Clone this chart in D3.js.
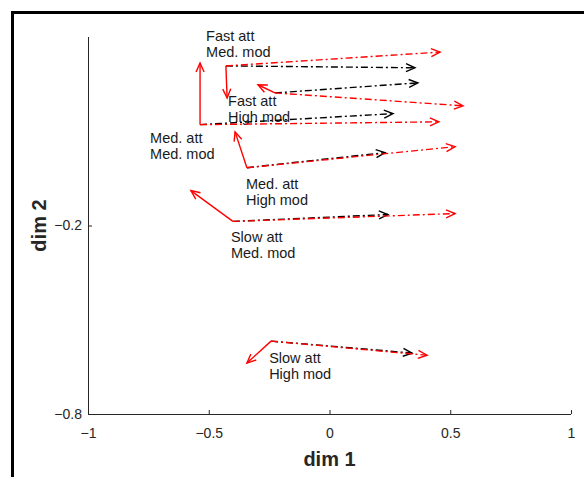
<!DOCTYPE html>
<html lang="en">
<head>
<meta charset="UTF-8">
<title>dim 1 / dim 2</title>
<style>
  *{margin:0;padding:0;}
  body{background:#fff;}
  svg{font-family:"Liberation Sans", Arial, Helvetica, sans-serif;}
</style>
</head>
<body>
<div id="container"></div>
<script src="https://cdn.jsdelivr.net/npm/d3@7/dist/d3.min.js"></script>
<script>
// conditions
var conditions = ['Fast att|Med. mod', 'Fast att|High mod', 'Med. att|Med. mod',
                  'Med. att|High mod', 'Slow att|Med. mod', 'Slow att|High mod']
// start point of each condition
var baseX = [-0.429, -0.226, -0.536, -0.342, -0.400, -0.242]
var baseY = [0.308, 0.222, 0.121, -0.016, -0.187, -0.568]
// solid red arrow end
var solidX = [-0.424, -0.296, -0.536, -0.391, -0.574, -0.342]
var solidY = [0.206, 0.248, 0.317, 0.098, -0.089, -0.638]
// red dash-dot arrow end
var redX = [0.458, 0.553, 0.453, 0.520, 0.520, 0.404]
var redY = [0.352, 0.181, 0.130, 0.051, -0.162, -0.613]
// black dash-dot arrow end
var blackX = [0.354, 0.366, 0.263, 0.230, 0.242, 0.342]
var blackY = [0.302, 0.254, 0.156, 0.032, -0.165, -0.606]
// text anchors (left, first line)
var labelX = [-0.511, -0.420, -0.743, -0.346, -0.408, -0.250]
var labelY = [0.403, 0.197, 0.079, -0.067, -0.238, -0.622]

var xTicks = [-1, -0.5, 0, 0.5, 1]
var yTicks = [-0.8, -0.2]

var W = 584, H = 477
var svg = d3.select('#container').append('svg').attr('width', W).attr('height', H)

// figure frame
svg.append('rect').attr('x', 12.5).attr('y', 12.5).attr('width', 640).attr('height', 540)
  .attr('fill', 'none').attr('stroke', '#000').attr('stroke-width', 3)

var sx = d3.scaleLinear().domain([-1, 1]).range([88, 571])
var sy = d3.scaleLinear().domain([-0.8, 0.4]).range([414, 37])

var axisCol = '#262626'
var fmt = function(d){ return String(d).replace('-', '\u2212') }
var gx = svg.append('g').attr('transform', 'translate(0,414)')
  .call(d3.axisBottom(sx).tickValues(xTicks).tickSizeInner(-4).tickSizeOuter(0)
    .tickPadding(14).tickFormat(fmt))
var gy = svg.append('g').attr('transform', 'translate(88,0)')
  .call(d3.axisLeft(sy).tickValues(yTicks).tickSizeInner(-4).tickSizeOuter(0)
    .tickPadding(6).tickFormat(fmt))
gy.select('.domain').attr('d', 'M0.5,' + sy(0.4) + 'V' + (sy(-0.8) + 0.5))
;[gx, gy].forEach(function(g){
  g.select('.domain').attr('stroke', axisCol).attr('stroke-width', 1)
  g.selectAll('line').attr('stroke', axisCol)
  g.selectAll('text').attr('fill', axisCol).attr('font-size', 14)
})
gx.select('.domain').attr('d', 'M' + sx(-1) + ',0.5H' + sx(1))

svg.append('text').text('dim 1').attr('x', sx(0)).attr('y', 466)
  .attr('text-anchor', 'middle').attr('font-size', 20).attr('font-weight', 'bold').attr('fill', axisCol)
svg.append('text').text('dim 2').attr('transform', 'translate(46,' + sy(-0.2) + ') rotate(-90)')
  .attr('text-anchor', 'middle').attr('font-size', 20).attr('font-weight', 'bold').attr('fill', axisCol)

function arrow(x0, y0, x1, y1, col, dash){
  var px0 = sx(x0), py0 = sy(y0), px1 = sx(x1), py1 = sy(y1)
  var a = Math.atan2(py1 - py0, px1 - px0), L = 9, hw = 4
  svg.append('line').attr('x1', px0).attr('y1', py0).attr('x2', px1).attr('y2', py1)
    .attr('stroke', col).attr('stroke-width', 1.4)
    .attr('stroke-dasharray', dash ? '7,3,2,3' : null)
  var bx = px1 - L * Math.cos(a), by = py1 - L * Math.sin(a)
  var nx = -Math.sin(a) * hw, ny = Math.cos(a) * hw
  svg.append('path')
    .attr('d', 'M' + (bx + nx) + ',' + (by + ny) + 'L' + px1 + ',' + py1 + 'L' + (bx - nx) + ',' + (by - ny))
    .attr('fill', 'none').attr('stroke', col).attr('stroke-width', 1.4)
}

conditions.forEach(function(c, i){
  arrow(baseX[i], baseY[i], blackX[i], blackY[i], '#000000', true)
  arrow(baseX[i], baseY[i], redX[i], redY[i], '#ff0000', true)
  arrow(baseX[i], baseY[i], solidX[i], solidY[i], '#ff0000', false)
  var t = svg.append('text').attr('font-size', 14.5).attr('fill', '#1a1a1a')
  c.split('|').forEach(function(s, k){
    t.append('tspan').attr('x', sx(labelX[i])).attr('y', sy(labelY[i]) + 5 + k * 16).text(s)
  })
})
</script>
</body>
</html>
